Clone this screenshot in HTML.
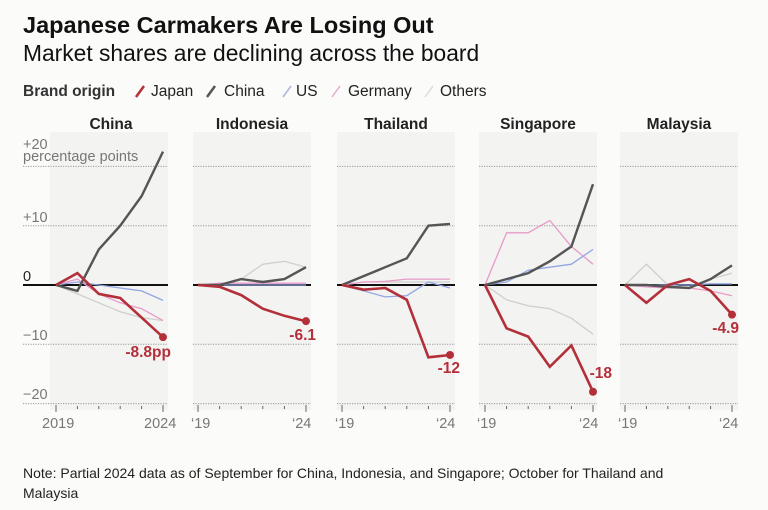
<!DOCTYPE html>
<html><head><meta charset="utf-8"><style>
body{margin:0;background:#fbfbf9;}
svg{display:block;font-family:"Liberation Sans",Arial,sans-serif;}
</style></head><body>
<svg id="s" width="768" height="510" viewBox="0 0 768 510">
<rect width="768" height="510" fill="#fbfbf9"/>
<text x="23" y="33" font-size="23.5" font-weight="bold" fill="#111">Japanese Carmakers Are Losing Out</text>
<text x="23" y="61" font-size="22.8" fill="#111">Market shares are declining across the board</text>
<text x="23" y="96" font-size="15.5" font-weight="bold" fill="#333">Brand origin</text>
<line x1="136" y1="97" x2="144" y2="86" stroke="#b3303a" stroke-width="2.5"/>
<text x="151" y="96" font-size="15.5" fill="#222">Japan</text>
<line x1="207" y1="97" x2="215" y2="86" stroke="#555" stroke-width="2.5"/>
<text x="224" y="96" font-size="15.5" fill="#222">China</text>
<line x1="283" y1="97" x2="291" y2="86" stroke="#a8b4e0" stroke-width="1.5"/>
<text x="296" y="96" font-size="15.5" fill="#222">US</text>
<line x1="332" y1="97" x2="340" y2="86" stroke="#e8b0d0" stroke-width="1.5"/>
<text x="348" y="96" font-size="15.5" fill="#222">Germany</text>
<line x1="425" y1="97" x2="433" y2="86" stroke="#ddd" stroke-width="1.5"/>
<text x="440" y="96" font-size="15.5" fill="#222">Others</text>
<g id="g"></g>
<g font-size="14.5" fill="#777">
<text x="23" y="149">+20</text>
<text x="23" y="161">percentage points</text>
<text x="23" y="222">+10</text>
<text x="23" y="281" fill="#222">0</text>
<text x="23" y="340">−10</text>
<text x="23" y="399">−20</text>
</g>
<text x="23" y="478" font-size="14" fill="#222">Note: Partial 2024 data as of September for China, Indonesia, and Singapore; October for Thailand and</text>
<text x="23" y="498" font-size="14" fill="#222">Malaysia</text>
</svg>
<script>
var P=[
{t:"China",bx:50,gx:23,x0:56,x1:163,lab:"-8.8pp",lx:171,ly:357,la:"end",
d:{o:[0,-1.5,-3,-4.5,-5.5,-6],g:[0,1,-1.5,-3,-4,-6],u:[0,0.5,0,-0.5,-1,-2.6],c:[0,-1,6,10,15,22.5],j:[0,2,-1.5,-2.2,-5.5,-8.8]}},
{t:"Indonesia",bx:193,gx:193,x0:198,x1:306,lab:"-6.1",lx:316,ly:340,la:"end",
d:{o:[0,0,1,3.5,4,3],g:[0,0.3,0.3,0.3,0.3,0.3],u:[0,0,0,0,0,0],c:[0,0,1,0.5,1,3],j:[0,-0.3,-1.7,-4,-5.2,-6.1]}},
{t:"Thailand",bx:337,gx:337,x0:342,x1:450,lab:"-12",lx:460,ly:373,la:"end",
d:{o:[0,0.5,0.5,0.5,0.5,0.5],g:[0,0.5,0.6,1,1,1],u:[0,-1,-2,-1.8,0.5,-0.5],c:[0,1.5,3,4.5,10,10.3],j:[0,-0.8,-0.5,-2.5,-12.2,-11.8]}},
{t:"Singapore",bx:479,gx:479,x0:485,x1:593,lab:"-18",lx:612,ly:378,la:"end",
d:{o:[0,-2.5,-3.5,-4,-5.6,-8.3],g:[0,8.8,8.8,10.9,6.5,3.5],u:[0,0.5,2.5,3,3.5,6],c:[0,1,2,4,6.5,17],j:[0,-7.3,-8.7,-13.8,-10.2,-18]}},
{t:"Malaysia",bx:620,gx:620,x0:625,x1:732,lab:"-4.9",lx:739,ly:333,la:"end",
d:{o:[0,3.5,0,-0.5,1,2],g:[0,-0.3,-0.5,-0.5,-1,-1.8],u:[0,0,0,0,0.2,0.2],c:[0,0,-0.3,-0.5,1,3.3],j:[0,-3,0,1,-1,-5]}}
];
var st={o:["#cfcfcf",1.3],g:["#e89ac8",1.3],u:["#92a6e2",1.3],c:["#555",2.4],j:["#b3303a",2.6]};
function Y(v){return 285-5.93*v;}
var h="";
P.forEach(function(p,i){
 var bw=118;
 h+='<rect x="'+p.bx+'" y="132" width="'+bw+'" height="278" fill="#f3f3f2"/>';
 var cx=p.bx+bw/2+ (i==0?2:0);
 h+='<text x="'+cx+'" y="129" font-size="15.5" font-weight="bold" fill="#222" text-anchor="middle">'+p.t+'</text>';
 [20,10,-10,-20].forEach(function(v){h+='<line x1="'+p.gx+'" x2="'+(p.bx+bw)+'" y1="'+Y(v)+'" y2="'+Y(v)+'" stroke="#999" stroke-width="1" stroke-dasharray="1.2 1.3"/>';});
 h+='<line x1="'+p.gx+'" x2="'+(p.bx+bw)+'" y1="285" y2="285" stroke="#111" stroke-width="2"/>';
 var step=(p.x1-p.x0)/5;
 for(var k=0;k<6;k++){var x=p.x0+k*step;h+='<line x1="'+x+'" x2="'+x+'" y1="'+((k==0||k==5)?405:406)+'" y2="'+((k==0||k==5)?412:409)+'" stroke="#666" stroke-width="1"/>';}
 ["o","g","u","c","j"].forEach(function(s){
  var pts=p.d[s].map(function(v,k){return (p.x0+k*step).toFixed(1)+","+Y(v).toFixed(1);}).join(" ");
  h+='<polyline points="'+pts+'" fill="none" stroke="'+st[s][0]+'" stroke-width="'+st[s][1]+'" stroke-linejoin="miter"/>';
 });
 var jv=p.d.j[5];
 h+='<circle cx="'+p.x1+'" cy="'+Y(jv)+'" r="4" fill="#b3303a"/>';
 h+='<text x="'+p.lx+'" y="'+p.ly+'" font-size="15.5" font-weight="bold" fill="#b3303a" text-anchor="'+p.la+'">'+p.lab+'</text>';
});
document.getElementById("g").innerHTML=h;
</script>
<div style="position:absolute;left:0;top:0;width:768px;height:510px;pointer-events:none">
<svg width="768" height="510" style="position:absolute;left:0;top:0" font-family="Liberation Sans,Arial,sans-serif" font-size="14.5" fill="#777">
<text x="42" y="428">2019</text>
<text x="144" y="428">2024</text>
<text x="191" y="428">‘19</text><text x="292" y="428">‘24</text>
<text x="335" y="428">‘19</text><text x="436" y="428">‘24</text>
<text x="477" y="428">‘19</text><text x="579" y="428">‘24</text>
<text x="618" y="428">‘19</text><text x="719" y="428">‘24</text>
</svg></div>
</body></html>
